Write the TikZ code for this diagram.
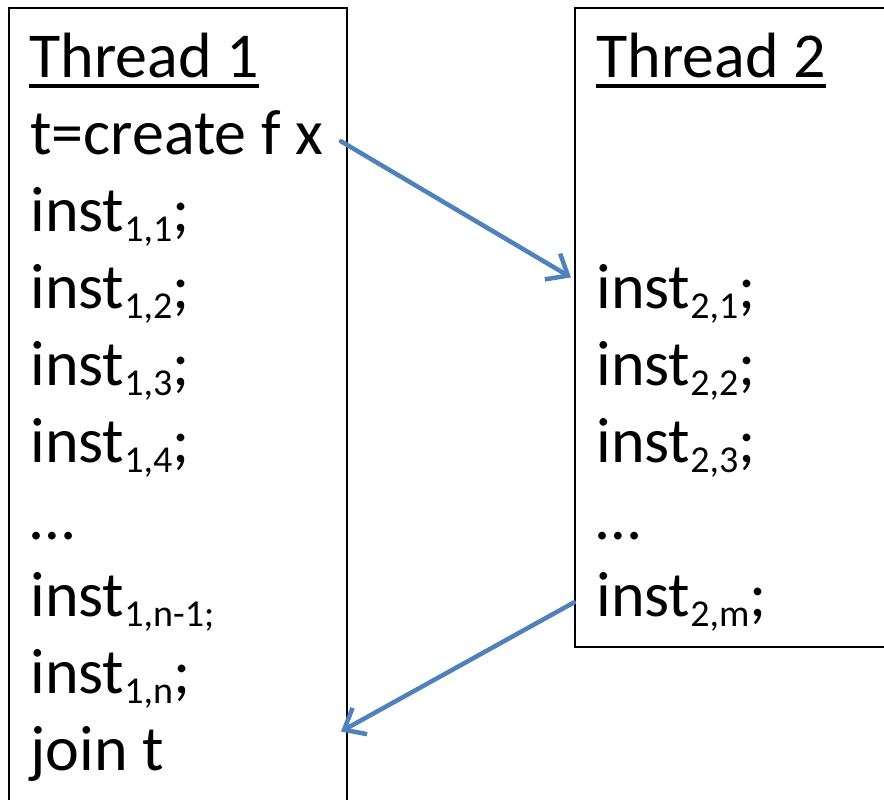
\documentclass[tikz,border=0pt]{standalone}
\usepackage{fontspec}
\setmainfont{Carlito}
\usetikzlibrary{arrows.meta}
\definecolor{flowblue}{HTML}{4F81BD}
\newcommand{\instsub}[1]{\raisebox{-5pt}{\fontsize{19}{20}\selectfont #1}}

\begin{document}
\begin{tikzpicture}[x=0.5pt,y=-0.5pt,
  code/.style={anchor=base west, inner sep=0pt, font=\fontsize{32}{38}\selectfont},
  thread/.style={draw, line width=1pt, inner sep=0pt},
  flow/.style={flowblue, line width=2.25pt, line cap=round, -{Straight Barb[length=9pt,width=15pt]}}]
\useasboundingbox (0,0) rectangle (884,799);
\clip (0,0) rectangle (884,799);

% the two threads
\node[thread, minimum width=169pt, minimum height=411pt] (box1) at (178,419) {};
\node[thread, minimum width=162.5pt, minimum height=319.5pt] (box2) at (737.5,327.5) {};

% thread 1
\node[code] (t1head) at (29,77) {Thread 1};
\node[code] (t1create) at (30,154) {t=create f x};
\node[code] (t1i1) at (30,231) {inst\instsub{1,1};};
\node[code] (t1i2) at (30,308) {inst\instsub{1,2};};
\node[code] (t1i3) at (30,385) {inst\instsub{1,3};};
\node[code] (t1i4) at (30,462) {inst\instsub{1,4};};
\node[code] (t1dots) at (30,539) {…};
\node[code] (t1in1) at (30,616) {inst\instsub{1,n-1;}};
\node[code] (t1in) at (30,693) {inst\instsub{1,n};};
\node[code] (join) at (30,770) {join t};

% thread 2
\node[code] (t2head) at (596,77) {Thread 2};
\node[code] (t2i1) at (596,308) {inst\instsub{2,1};};
\node[code] (t2i2) at (596,385) {inst\instsub{2,2};};
\node[code] (t2i3) at (596,462) {inst\instsub{2,3};};
\node[code] (t2dots) at (596,539) {…};
\node[code] (t2im) at (596,616) {inst\instsub{2,m};};

% underlined headings
\draw[line width=2.25pt] ([yshift=-4.5pt]t1head.base west) -- ([yshift=-4.5pt]t1head.base east);
\draw[line width=2.25pt] ([yshift=-4.5pt]t2head.base west) -- ([yshift=-4.5pt]t2head.base east);

% create and join
\draw[flow] ([xshift=-3.5pt,yshift=-4.5pt]box1.east |- t1create) -- ([xshift=-1.5pt,yshift=8pt]box2.west |- t2i1);
\draw[flow] ([yshift=-0.5pt]box2.west |- t2im) -- ([xshift=-3.5pt,yshift=11pt]box1.east |- join);
\end{tikzpicture}
\end{document}
